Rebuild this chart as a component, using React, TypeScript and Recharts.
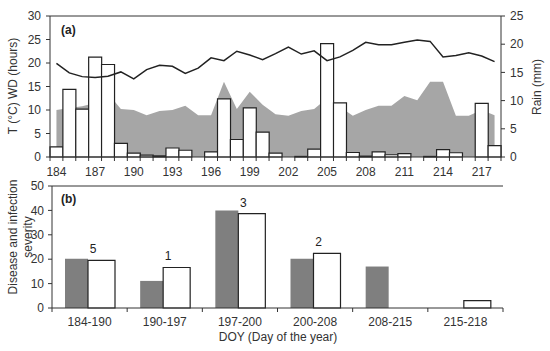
import React from "react"
import {
  ComposedChart,
  BarChart,
  Bar,
  Line,
  Area,
  XAxis,
  YAxis,
  ReferenceLine,
  LabelList,
} from "recharts"

// (a) daily weather, DOY 184-218
const days = [
  184, 185, 186, 187, 188, 189, 190, 191, 192, 193, 194, 195, 196, 197, 198, 199, 200, 201,
  202, 203, 204, 205, 206, 207, 208, 209, 210, 211, 212, 213, 214, 215, 216, 217, 218,
]
const temperature = [
  19.9, 17.9, 17.1, 16.9, 17.2, 18.1, 16.6, 18.6, 19.5, 19.3, 17.8, 18.9, 21.1, 20.5, 22.5, 21.7,
  20.7, 22.0, 23.4, 21.9, 22.6, 20.5, 21.3, 22.7, 24.4, 23.9, 23.9, 24.4, 24.9, 24.6, 21.3, 21.6,
  22.2, 21.5, 20.3,
]
const wetness = [
  10.0, 10.4, 10.8, 11.5, 13.5, 10.2, 10.0, 8.9, 9.8, 10.0, 10.9, 8.9, 8.9, 16.0, 10.2, 13.9, 11.1,
  9.1, 8.8, 9.8, 10.2, 12.5, 10.7, 8.8, 10.0, 10.9, 10.9, 13.0, 12.1, 16.0, 16.0, 8.8, 8.8, 10.0,
  8.9,
]
const rain = [
  1.8, 12.0, 8.5, 17.7, 16.4, 2.4, 0.7, 0.35, 0.2, 1.6, 1.2, 0, 0.9, 10.3, 3.1, 8.7, 4.4, 0.7, 0,
  0.1, 1.4, 20.1, 9.6, 0.8, 0.15, 0.9, 0.4, 0.6, 0, 0.1, 1.3, 0.75, 0, 9.5, 2.0,
]
const leftTicks = [0, 5, 10, 15, 20, 25, 30]
const rainTicks = [0, 5, 10, 15, 20, 25]

// (b) severity per period
const periods = ["184-190", "190-197", "197-200", "200-208", "208-215", "215-218"]
const disease = [20.2, 11.1, 40.0, 20.2, 17.0, 0]
const infection = [19.5, 16.6, 38.7, 22.4, 0, 3.0]
const infectionCounts = ["5", "1", "3", "2", "", "1"]
const severityTicks = [0, 10, 20, 30, 40, 50]

const FONT = "'Liberation Sans', Arial, sans-serif"
const INK = "#333"
const tickStyle = { fontSize: 12, fill: INK, fontFamily: FONT }

const weatherData = days.map((d, i) => ({
  day: d,
  temp: temperature[i],
  wd: wetness[i],
  rain: rain[i],
}))

const severityData = periods.map((p, i) => ({
  period: p,
  disease: disease[i],
  infection: infection[i],
}))

// category tick: label at band centre, tick marks on band edges
function makeEdgeTick(count: number, every: number, drop: number) {
  return function EdgeTick(props: any) {
    const { x, y, payload, index } = props
    const half = payload?.offset ?? 0
    const axisY = y - drop
    return (
      <g>
        <line x1={x - half} x2={x - half} y1={axisY} y2={axisY + 4} stroke={INK} />
        {index === count - 1 && (
          <line x1={x + half} x2={x + half} y1={axisY} y2={axisY + 4} stroke={INK} />
        )}
        {index % every === 0 && (
          <text x={x} y={y} dy="0.71em" textAnchor="middle" {...tickStyle}>
            {payload.value}
          </text>
        )}
      </g>
    )
  }
}
const DayTick = makeEdgeTick(days.length, 3, 10)
const PeriodTick = makeEdgeTick(periods.length, 1, 9)

function CountLabel(props: any) {
  const { x, y, index } = props
  const txt = infectionCounts[index]
  if (!txt) return null
  return (
    <text x={x + 5} y={y - 7} textAnchor="middle" fontSize={12} fill="#222" fontFamily={FONT}>
      {txt}
    </text>
  )
}

export default function App() {
  return (
    <div
      style={{
        position: "absolute",
        left: 0,
        top: 0,
        width: 550,
        height: 351,
        background: "#fff",
        fontFamily: FONT,
      }}
    >
      <div style={{ position: "absolute", left: 0, top: 0 }}>
        <ComposedChart
          width={550}
          height={190}
          data={weatherData}
          margin={{ top: 16, right: 0, bottom: 15, left: 0 }}
          barCategoryGap={0}
          barGap={0}
        >
          <XAxis
            dataKey="day"
            interval={0}
            tickLine={false}
            axisLine={{ stroke: INK }}
            height={18}
            tickSize={4}
            tickMargin={6}
            tick={DayTick}
          />
          <YAxis
            yAxisId="left"
            domain={[0, 30]}
            ticks={leftTicks}
            width={50}
            tickSize={4}
            tickMargin={5}
            stroke={INK}
            tick={tickStyle}
            label={{
              content: () => (
                <g fontFamily={FONT}>
                  <text
                    x={13}
                    y={86}
                    transform="rotate(-90 13 86)"
                    textAnchor="middle"
                    dominantBaseline="central"
                    fontSize={12}
                    fill={INK}
                  >
                    T (°C) WD (hours)
                  </text>
                  <text x={61} y={34} fontSize={12} fontWeight="bold" fill="#222">
                    (a)
                  </text>
                </g>
              ),
            }}
          />
          <YAxis
            yAxisId="right"
            orientation="right"
            domain={[0, 25]}
            ticks={rainTicks}
            width={49}
            tickSize={4}
            tickMargin={5}
            stroke={INK}
            tick={tickStyle}
            label={{
              content: () => (
                <text
                  x={537}
                  y={87}
                  transform="rotate(-90 537 87)"
                  textAnchor="middle"
                  dominantBaseline="central"
                  fontSize={12}
                  fill={INK}
                  fontFamily={FONT}
                >
                  Rain (mm)
                </text>
              ),
            }}
          />
          <Area
            yAxisId="left"
            dataKey="wd"
            type="linear"
            fill="#a6a6a6"
            fillOpacity={1}
            stroke="none"
            isAnimationActive={false}
          />
          <Bar
            yAxisId="right"
            dataKey="rain"
            fill="#fff"
            stroke="#222"
            strokeWidth={1.2}
            isAnimationActive={false}
          />
          <Line
            yAxisId="left"
            dataKey="temp"
            type="linear"
            stroke="#222"
            strokeWidth={1.5}
            dot={false}
            isAnimationActive={false}
          />
          <ReferenceLine yAxisId="left" y={30} stroke={INK} />
        </ComposedChart>
      </div>

      <div style={{ position: "absolute", left: 0, top: 175 }}>
        <BarChart
          width={550}
          height={176}
          data={severityData}
          margin={{ top: 11, right: 47, bottom: 0, left: 0 }}
          barGap={0}
        >
          <XAxis
            xAxisId="edges"
            type="number"
            domain={[0, periods.length]}
            hide
          />
          <XAxis
            dataKey="period"
            interval={0}
            tickLine={false}
            axisLine={{ stroke: INK }}
            height={43}
            tickSize={4}
            tickMargin={5}
            tick={PeriodTick}
            label={{
              content: () => (
                <text x={278} y={166} textAnchor="middle" fontSize={12} fill={INK} fontFamily={FONT}>
                  DOY (Day of the year)
                </text>
              ),
            }}
          />
          <YAxis
            domain={[0, 50]}
            ticks={severityTicks}
            width={52}
            tickSize={4}
            tickMargin={4}
            stroke={INK}
            tick={tickStyle}
            label={{
              content: () => (
                <g fontFamily={FONT} fontSize={12} fill={INK}>
                  <text
                    x={13}
                    y={62}
                    transform="rotate(-90 13 62)"
                    textAnchor="middle"
                    dominantBaseline="central"
                  >
                    Disease and infection
                  </text>
                  <text
                    x={28}
                    y={62}
                    transform="rotate(-90 28 62)"
                    textAnchor="middle"
                    dominantBaseline="central"
                  >
                    severity
                  </text>
                  <text x={61} y={28} fontWeight="bold" fill="#222">
                    (b)
                  </text>
                </g>
              ),
            }}
          />
          <Bar dataKey="disease" fill="#7f7f7f" barSize={23} isAnimationActive={false} />
          <Bar
            dataKey="infection"
            fill="#fff"
            stroke="#222"
            strokeWidth={1.2}
            barSize={27}
            isAnimationActive={false}
          >
            <LabelList dataKey="infection" content={CountLabel} />
          </Bar>
          <ReferenceLine y={50} stroke={INK} />
          <ReferenceLine xAxisId="edges" x={periods.length} stroke={INK} />
        </BarChart>
      </div>
    </div>
  )
}
